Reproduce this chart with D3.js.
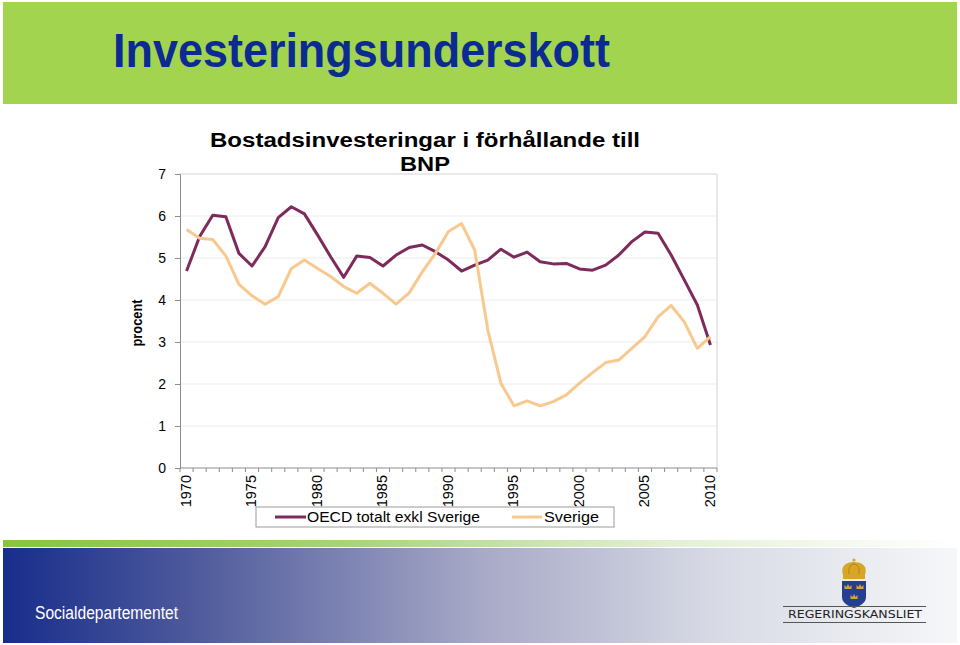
<!DOCTYPE html>
<html>
<head>
<meta charset="utf-8">
<script src="https://cdn.jsdelivr.net/npm/d3@7"></script>
<style>
  html, body { margin: 0; padding: 0; background: #fff; }
  svg { display: block; }
</style>
</head>
<body>
<svg id="c" width="960" height="645"></svg>
<script>
// ---------- data ----------
const years = d3.range(1970, 2011);
const oecd = [4.69, 5.51, 6.02, 5.98, 5.11, 4.81, 5.27, 5.96, 6.22, 6.05,
              5.55, 5.03, 4.54, 5.05, 5.01, 4.81, 5.07, 5.25, 5.31, 5.15,
              4.95, 4.69, 4.83, 4.95, 5.21, 5.02, 5.14, 4.91, 4.86, 4.87,
              4.74, 4.71, 4.83, 5.07, 5.39, 5.62, 5.59, 5.07, 4.48, 3.88, 2.93];
const sverige = [5.68, 5.47, 5.44, 5.05, 4.37, 4.10, 3.90, 4.08, 4.75, 4.95,
                 4.75, 4.56, 4.32, 4.16, 4.40, 4.16, 3.90, 4.17, 4.67, 5.11,
                 5.63, 5.82, 5.19, 3.29, 2.02, 1.48, 1.60, 1.48, 1.58, 1.74,
                 2.02, 2.27, 2.51, 2.57, 2.85, 3.13, 3.60, 3.87, 3.48, 2.85, 3.13];
const yTicks = [0, 1, 2, 3, 4, 5, 6, 7];
const xTickYears = [1970, 1975, 1980, 1985, 1990, 1995, 2000, 2005, 2010];
const seriesNames = ["OECD totalt exkl Sverige", "Sverige"];
const seriesColors = ["#7e2a5c", "#f9c88f"];

// ---------- svg ----------
const svg = d3.select("#c");
const defs = svg.append("defs");

// header
svg.append("rect").attr("x", 3).attr("y", 2).attr("width", 954).attr("height", 102)
  .attr("fill", "#a2d450");
svg.append("text").attr("x", 113).attr("y", 67)
  .attr("font-family", "'Liberation Sans Narrow', 'Arial Narrow', 'Liberation Sans', Arial, sans-serif")
  .attr("font-weight", "bold").attr("font-size", 49)
  .attr("textLength", 497).attr("lengthAdjust", "spacingAndGlyphs")
  .attr("fill", "#0b2b93").text("Investeringsunderskott");

// ---------- chart ----------
const x = d3.scalePoint().domain(years).range([180, 717]).padding(0.5);
const y = d3.scaleLinear().domain([0, 7]).range([468, 174]);
const step = x.step();
const font = "'Liberation Sans', Arial, sans-serif";

const g = svg.append("g");

// gridlines
g.selectAll("line.grid").data(yTicks.filter(d => d > 0 && d < 7)).enter().append("line")
  .attr("x1", 180).attr("x2", 717).attr("y1", d => y(d)).attr("y2", d => y(d))
  .attr("stroke", "#ececec").attr("stroke-width", 1);
// top and right frame
g.append("line").attr("x1", 180).attr("x2", 717).attr("y1", y(7)).attr("y2", y(7))
  .attr("stroke", "#d4d4d4");
g.append("line").attr("x1", 717).attr("x2", 717).attr("y1", y(7)).attr("y2", y(0))
  .attr("stroke", "#d4d4d4");

// y axis
const yAxis = d3.axisLeft(y).tickValues(yTicks).tickFormat(d3.format("d")).tickSize(5).tickPadding(9);
const ya = g.append("g").attr("transform", "translate(180,0)").call(yAxis);
ya.select(".domain").attr("stroke", "#8c8c8c");
ya.selectAll(".tick line").attr("stroke", "#8c8c8c");
ya.selectAll(".tick text").attr("font-family", font).attr("font-size", 14).attr("fill", "#000");

// x axis line + category boundary ticks
g.append("line").attr("x1", 180).attr("x2", 717).attr("y1", y(0)).attr("y2", y(0))
  .attr("stroke", "#8c8c8c");
g.selectAll("line.xt").data(d3.range(0, years.length + 1)).enter().append("line")
  .attr("x1", i => 180 + i * step).attr("x2", i => 180 + i * step)
  .attr("y1", y(0)).attr("y2", y(0) + 4).attr("stroke", "#8c8c8c");
// x tick labels
g.selectAll("text.xl").data(xTickYears).enter().append("text")
  .attr("transform", d => `translate(${x(d) - 1},${y(0) + 7}) rotate(-90)`)
  .attr("text-anchor", "end").attr("dy", "0.35em")
  .attr("font-family", font).attr("font-size", 14.5).attr("fill", "#000")
  .text(d => d);

// y label
g.append("text").attr("transform", "translate(137,323) rotate(-90)")
  .attr("text-anchor", "middle").attr("dy", "0.35em")
  .attr("font-family", font).attr("font-weight", "bold").attr("font-size", 14)
  .attr("textLength", 47).attr("lengthAdjust", "spacingAndGlyphs").text("procent");

// chart title
g.append("text").attr("x", 425).attr("y", 147).attr("text-anchor", "middle")
  .attr("font-family", font).attr("font-weight", "bold").attr("font-size", 20)
  .attr("textLength", 430).attr("lengthAdjust", "spacingAndGlyphs")
  .text("Bostadsinvesteringar i förhållande till");
g.append("text").attr("x", 425).attr("y", 171).attr("text-anchor", "middle")
  .attr("font-family", font).attr("font-weight", "bold").attr("font-size", 20)
  .attr("textLength", 50).attr("lengthAdjust", "spacingAndGlyphs")
  .text("BNP");

// lines
const line = d3.line().x((d, i) => x(years[i])).y(d => y(d));
[oecd, sverige].forEach((s, k) => {
  g.append("path").datum(s).attr("d", line).attr("fill", "none")
    .attr("stroke", seriesColors[k]).attr("stroke-width", 3)
    .attr("stroke-linejoin", "round");
});

// legend
const lg = svg.append("g");
lg.append("rect").attr("x", 256).attr("y", 507).attr("width", 358).attr("height", 20)
  .attr("fill", "#fff").attr("stroke", "#9a9a9a");
const legX = [[275, 306, 307, 173], [512, 542, 544, 55]];
seriesNames.forEach((n, k) => {
  lg.append("line").attr("x1", legX[k][0]).attr("x2", legX[k][1]).attr("y1", 517).attr("y2", 517)
    .attr("stroke", seriesColors[k]).attr("stroke-width", 3);
  lg.append("text").attr("x", legX[k][2]).attr("y", 522)
    .attr("font-family", font).attr("font-size", 14.5)
    .attr("textLength", legX[k][3]).attr("lengthAdjust", "spacingAndGlyphs").text(n);
});

// ---------- footer ----------
const gg = defs.append("linearGradient").attr("id", "gstripe").attr("x1", 0).attr("x2", 1);
gg.append("stop").attr("offset", 0).attr("stop-color", "#86c440");
gg.append("stop").attr("offset", 0.35).attr("stop-color", "#a6d374");
gg.append("stop").attr("offset", 0.7).attr("stop-color", "#e3f0d5");
gg.append("stop").attr("offset", 1).attr("stop-color", "#ffffff");
svg.append("rect").attr("x", 3).attr("y", 540).attr("width", 954).attr("height", 7)
  .attr("fill", "url(#gstripe)");

const bg = defs.append("linearGradient").attr("id", "bband").attr("x1", 0).attr("x2", 1);
bg.append("stop").attr("offset", 0).attr("stop-color", "#182d8b");
bg.append("stop").attr("offset", 0.2).attr("stop-color", "#4e5a9c");
bg.append("stop").attr("offset", 0.5).attr("stop-color", "#a7a9c7");
bg.append("stop").attr("offset", 0.75).attr("stop-color", "#d8dbe5");
bg.append("stop").attr("offset", 1).attr("stop-color", "#f6f7f9");
svg.append("rect").attr("x", 3).attr("y", 548).attr("width", 954).attr("height", 95)
  .attr("fill", "url(#bband)");

svg.append("text").attr("x", 35).attr("y", 619)
  .attr("font-family", "'Liberation Sans Narrow', 'Arial Narrow', 'Liberation Sans', Arial, sans-serif")
  .attr("font-size", 18).attr("textLength", 143).attr("lengthAdjust", "spacingAndGlyphs")
  .attr("fill", "#ffffff").text("Socialdepartementet");

// logo
const logo = svg.append("g");
const gold = "#d7a528";
// crown
logo.append("rect").attr("x", 843).attr("y", 574).attr("width", 22).attr("height", 5).attr("fill", gold);
logo.append("path").attr("d", "M843,575 C840,566 846,562 854,562 C862,562 868,566 865,575 Z").attr("fill", gold);
logo.append("path").attr("d", "M849,574 C848,567 851,564 854,564 C857,564 860,567 859,574").attr("fill", "none").attr("stroke", "#a87a10").attr("stroke-width", 0.8);
logo.append("circle").attr("cx", 854).attr("cy", 560).attr("r", 1.6).attr("fill", gold);
// shield
logo.append("path").attr("d", "M842,581 L866,581 L866,597 C866,603 860,606 854,608 C848,606 842,603 842,597 Z")
  .attr("fill", "#233f92");
[[848, 587], [860, 587], [854, 597]].forEach(([cx, cy]) => {
  logo.append("path").attr("d", `M${cx - 3.5},${cy + 2} L${cx - 3.5},${cy - 2} L${cx - 1.5},${cy} L${cx},${cy - 3} L${cx + 1.5},${cy} L${cx + 3.5},${cy - 2} L${cx + 3.5},${cy + 2} Z`)
    .attr("fill", gold);
});
logo.append("line").attr("x1", 783).attr("x2", 926).attr("y1", 606.5).attr("y2", 606.5).attr("stroke", "#555").attr("stroke-width", 1);
logo.append("line").attr("x1", 783).attr("x2", 926).attr("y1", 622.5).attr("y2", 622.5).attr("stroke", "#555").attr("stroke-width", 1);
logo.append("text").attr("x", 788).attr("y", 618)
  .attr("font-family", "'DejaVu Sans', sans-serif").attr("font-size", 10.5)
  .attr("textLength", 134).attr("lengthAdjust", "spacingAndGlyphs")
  .attr("fill", "#222").text("REGERINGSKANSLIET");
</script>
</body>
</html>
